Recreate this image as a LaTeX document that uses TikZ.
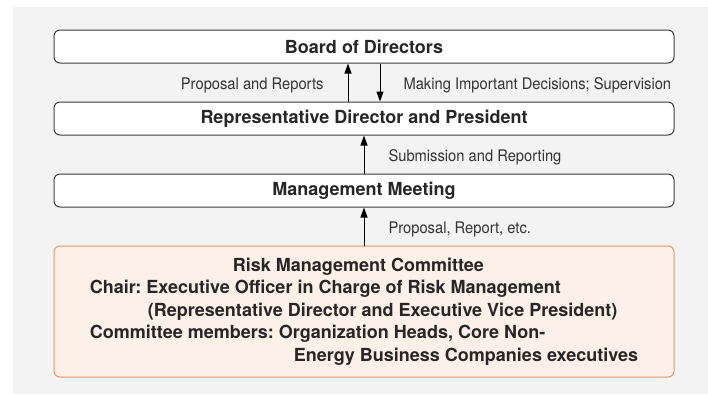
\documentclass[tikz,border=0pt]{standalone}
\usepackage{fontspec}
\setmainfont{TeX Gyre Heros}
\newfontfamily\lblfont[FakeStretch=0.92]{TeX Gyre Heros}
\usepackage{tikz}
\usetikzlibrary{arrows.meta}
\usepackage{xcolor}
\definecolor{bggray}{HTML}{F3F3F3}
\definecolor{boxline}{HTML}{3C3C3C}
\definecolor{riskfill}{HTML}{FCF0E8}
\definecolor{riskline}{HTML}{E4976F}
\definecolor{lblgray}{HTML}{333333}
\frenchspacing

\begin{document}
\begin{tikzpicture}
		[x=1pt,y=-1pt,->,>={Triangle[length=10pt,width=7pt]},line width=1pt,
		box/.style={rectangle,rounded corners=6pt,draw=boxline,fill=white,minimum width=620pt,minimum height=33pt,inner sep=0pt,font=\fontsize{18}{22.5}\selectfont\bfseries,text=black!85},
		riskbox/.style={box,draw=riskline,fill=riskfill,minimum height=131pt,align=left},
		lbl/.style={font=\lblfont\fontsize{16}{19}\selectfont,text=lblgray,inner sep=0pt}]
		\useasboundingbox (0,0) rectangle (708,394);
		\fill[bggray,-] (13,7) rectangle (708,394);
		
		\node[box] (b0) at (364,46.5) {Board of Directors};
		\node[box] (b1) at (364,118.5) {Representative Director and President};
		\node[box] (b2) at (364,190.5) {Management Meeting};
		\node[riskbox] (b3) at (364,311.5) {\hspace*{143pt}Risk Management Committee\\
			Chair: Executive Officer in Charge of Risk Management\\
			\hspace*{58pt}(Representative Director and Executive Vice President)\\
			Committee members: Organization Heads, Core Non-\\
			\hspace*{204pt}Energy Business Companies executives};
		\node[lbl,anchor=base east] (l0) at (324,89) {Proposal and Reports};
		\node[lbl,anchor=base west] (l1) at (403,89) {Making Important Decisions; Supervision};
		\node[lbl,anchor=base west] (l2) at (388,161) {Submission and Reporting};
		\node[lbl,anchor=base west] (l3) at (388,233) {Proposal, Report, etc.};
		
		\path ([xshift=-16pt]b1.north) edge ([xshift=-16pt]b0.south);
		\path ([xshift=16pt]b0.south) edge ([xshift=16pt]b1.north);
		\path (b2) edge (b1);
		\path (b3) edge (b2);
		
	\end{tikzpicture}
\end{document}
